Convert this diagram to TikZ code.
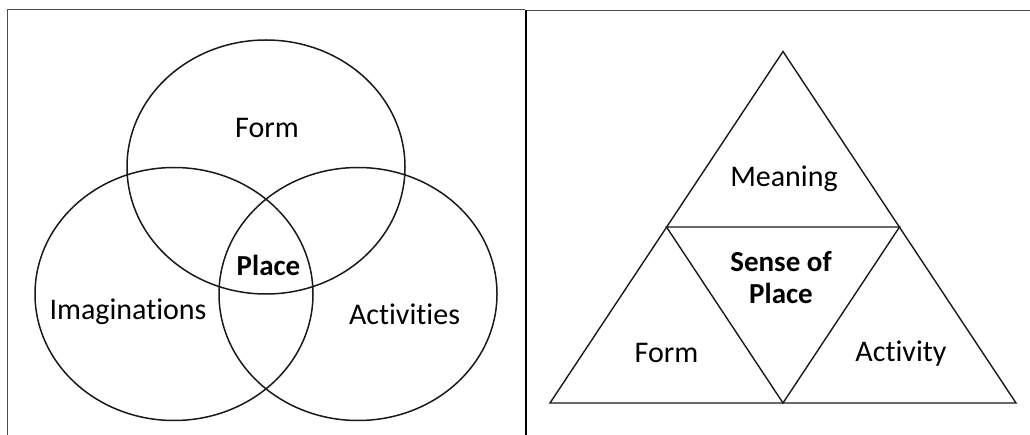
\documentclass[tikz,border=0pt]{standalone}
\usepackage{fontspec}
\setmainfont{Carlito}[Ligatures=NoCommon]
\begin{document}
\begin{tikzpicture}[x=1pt,y=-1pt,
  venn/.style={draw=black!90,line width=1.5pt},
  tri/.style={draw=black!90,line width=1.4pt,line join=miter},
  lbl/.style={font=\fontsize{30}{33}\selectfont,inner sep=0pt,align=center},
  blbl/.style={lbl,font=\fontsize{29}{33}\selectfont\bfseries},
  frame/.style={draw=black!70,line width=1pt}]
\useasboundingbox (0,0) rectangle (1030,435);
% frames
\draw[frame,line width=1.6pt] (7.5,435) -- (7.5,9.5) -- (525,9.5);
\draw[frame] (1030,10.5) -- (527,10.5);
\draw[black,line width=2.6pt] (526,10) -- (526,435);
% Venn
\draw[venn] (266,167) ellipse [x radius=139, y radius=127];
\draw[venn] (174,294) ellipse [x radius=139, y radius=126.5];
\draw[venn] (358,294) ellipse [x radius=139, y radius=126.5];
\node[lbl] (form) at (267,128) {Form};
\node[blbl] (place) at (268.5,265) {Place};
\node[lbl] (imag) at (128,312) {Imaginations};
\node[lbl] (act) at (404.5,314) {Activities};
% Triangle
\coordinate (apex) at (783,51.5);
\coordinate (bl) at (550,403);
\coordinate (br) at (1016,403);
\coordinate (bm) at (783,403);
\coordinate (ml) at (666.5,227);
\coordinate (mr) at (899.5,227);
\draw[tri] (apex) -- (br) -- (bl) -- cycle;
\draw[tri] (ml) -- (mr) -- (bm) -- cycle;
\node[lbl] (meaning) at (784,179) {Meaning};
\node[blbl] (sense) at (781,278) {Sense of\\[-1pt]Place};
\node[lbl] (tform) at (666.5,353) {Form};
\node[lbl] (activity) at (901,354) {Activity};
\end{tikzpicture}
\end{document}
